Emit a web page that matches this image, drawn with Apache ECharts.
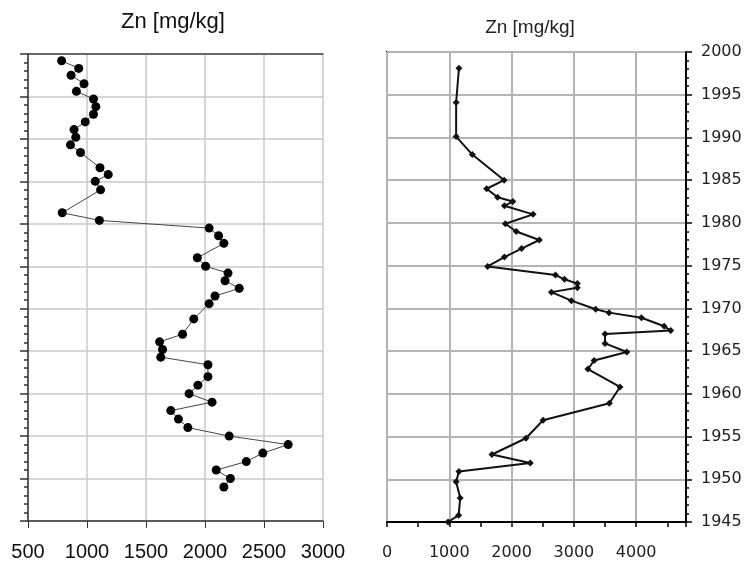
<!DOCTYPE html>
<html>
<head>
<meta charset="utf-8">
<script src="https://cdn.jsdelivr.net/npm/echarts@6/dist/echarts.min.js"></script>
<style>
  html, body { margin: 0; padding: 0; background: #fff; }
  #main { width: 750px; height: 565px; }
</style>
</head>
<body>
<div id="main"></div>
<script>
// left profile: depth (unlabelled axis) vs Zn
var leftDepth = [0.8, 1.7, 2.5, 3.5, 4.4, 5.3, 6.2, 7.1, 8.0, 8.9, 9.8, 10.7, 11.6, 13.4, 14.2, 15.0, 16.0,
  18.7, 19.6, 20.5, 21.4, 22.3, 24.0, 25.0, 25.8, 26.7, 27.6, 28.5, 29.4, 31.2, 33.0, 33.9, 34.8, 35.7,
  36.6, 38.0, 39.0, 40.0, 41.0, 42.0, 43.0, 44.0, 45.0, 46.0, 47.0, 48.0, 49.0, 50.0, 51.0];
var leftZn = [785, 930, 865, 975, 910, 1055, 1075, 1055, 985, 890, 905, 860, 945, 1110, 1180, 1070, 1115,
  790, 1105, 2035, 2115, 2160, 1935, 2005, 2195, 2170, 2290, 2085, 2035, 1905, 1810, 1615, 1640, 1625,
  2025, 2025, 1940, 1865, 2060, 1710, 1775, 1855, 2205, 2705, 2490, 2350, 2095, 2215, 2160];
var leftTicks = [500, 1000, 1500, 2000, 2500, 3000];

// right profile: year vs Zn
var rightYear = [1998.1, 1994.1, 1990.1, 1988.0, 1985.0, 1984.0, 1983.0, 1982.5, 1982.0, 1981.0, 1979.9,
  1979.0, 1978.0, 1977.0, 1976.0, 1974.9, 1973.9, 1973.4, 1972.9, 1972.4, 1971.9, 1970.9, 1969.9, 1969.5,
  1968.9, 1967.9, 1967.4, 1967.0, 1965.9, 1964.9, 1963.9, 1962.9, 1960.8, 1958.9, 1956.9, 1954.8, 1952.9,
  1951.9, 1950.9, 1949.7, 1947.8, 1945.8, 1945.0];
var rightZn = [1155, 1110, 1110, 1370, 1880, 1600, 1775, 2020, 1885, 2345, 1900, 2075, 2445, 2160, 1885,
  1615, 2705, 2850, 3055, 3055, 2640, 2960, 3350, 3565, 4085, 4450, 4555, 3500, 3500, 3850, 3325, 3225,
  3740, 3570, 2505, 2230, 1685, 2300, 1155, 1110, 1175, 1150, 980];
var rightTicks = [0, 1000, 2000, 3000, 4000];
var yearTicks = [1945, 1950, 1955, 1960, 1965, 1970, 1975, 1980, 1985, 1990, 1995, 2000];

var chart = echarts.init(document.getElementById('main'));

var leftData = leftZn.map(function (v, i) { return [v, leftDepth[i]]; });
var rightData = rightZn.map(function (v, i) { return [v, rightYear[i]]; });

var option = {
  animation: false,
  graphic: [
    { type: 'text', x: 173, y: 22, style: { text: 'Zn [mg/kg]', align: 'center', verticalAlign: 'middle',
      fontSize: 22, fontFamily: 'Liberation Sans', fill: '#111' } },
    { type: 'text', x: 530, y: 28, style: { text: 'Zn [mg/kg]', align: 'center', verticalAlign: 'middle',
      fontSize: 19, fontFamily: 'Liberation Sans', fill: '#222' } }
  ],
  grid: [
    { left: 28, top: 54, width: 295, height: 467 },
    { left: 387, top: 52, width: 299, height: 470, show: true, borderColor: '#000', borderWidth: 2 }
  ],
  xAxis: [
    {
      type: 'value', gridIndex: 0, min: leftTicks[0], max: leftTicks[leftTicks.length - 1], interval: 500,
      axisLine: { show: true, onZero: false, lineStyle: { color: '#333', width: 1.5 } },
      axisTick: { show: true, length: 7, lineStyle: { color: '#333' } },
      axisLabel: { fontSize: 20, fontFamily: 'Liberation Sans', color: '#111', margin: 21,
        formatter: function (v) { return String(v); } },
      splitLine: { lineStyle: { color: '#c8c8c8', width: 1.5 } }
    },
    {
      type: 'value', gridIndex: 1, min: rightTicks[0], max: 4800, interval: 1000,
      axisLine: { show: true, onZero: false, lineStyle: { color: '#000', width: 2 } },
      axisTick: { show: true, length: 5, lineStyle: { color: '#000', width: 1.5 } },
      minorTick: { show: true, splitNumber: 2, length: 5, lineStyle: { color: '#000', width: 1.5 } },
      axisLabel: { fontSize: 16, fontFamily: 'DejaVu Sans', color: '#222', margin: 23,
        formatter: function (v) { return rightTicks.indexOf(v) >= 0 ? String(v) : ''; } },
      splitLine: { lineStyle: { color: '#b4b4b4', width: 2 } }
    },
    {
      // dark top edge of the left panel
      type: 'value', gridIndex: 0, position: 'top', min: 500, max: 3000,
      axisLine: { show: true, lineStyle: { color: '#444', width: 1.5 } },
      axisTick: { show: false }, axisLabel: { show: false }, splitLine: { show: false }
    }
  ],
  yAxis: [
    {
      type: 'value', gridIndex: 0, inverse: true, min: 0, max: 55, interval: 5,
      axisLine: { show: true, onZero: false, lineStyle: { color: '#333', width: 1.5 } },
      axisTick: { show: true, length: 8, lineStyle: { color: '#333', width: 1.5 } },
      minorTick: { show: true, splitNumber: 5, length: 4, lineStyle: { color: '#333', width: 1.5 } },
      axisLabel: { show: false },
      splitLine: { lineStyle: { color: '#c8c8c8', width: 1.5 } }
    },
    {
      type: 'value', gridIndex: 1, position: 'right', min: yearTicks[0], max: yearTicks[yearTicks.length - 1], interval: 5,
      axisLine: { show: true, onZero: false, lineStyle: { color: '#000', width: 2 } },
      axisTick: { show: true, length: 6, lineStyle: { color: '#000', width: 1.5 } },
      minorTick: { show: true, splitNumber: 5, length: 3, lineStyle: { color: '#000', width: 1.5 } },
      axisLabel: { fontSize: 16, fontFamily: 'DejaVu Sans', color: '#222', margin: 15,
        formatter: function (v) { return String(v); } },
      splitLine: { lineStyle: { color: '#b4b4b4', width: 2 } }
    }
  ],
  series: [
    {
      type: 'line', xAxisIndex: 0, yAxisIndex: 0, data: leftData,
      symbol: 'circle', symbolSize: 9, showAllSymbol: true,
      itemStyle: { color: '#000' },
      lineStyle: { color: '#444', width: 1 }
    },
    {
      type: 'line', xAxisIndex: 1, yAxisIndex: 1, data: rightData,
      symbol: 'diamond', symbolSize: 7, showAllSymbol: true,
      itemStyle: { color: '#111' },
      lineStyle: { color: '#111', width: 2 }
    }
  ]
};

chart.setOption(option);
</script>
</body>
</html>
